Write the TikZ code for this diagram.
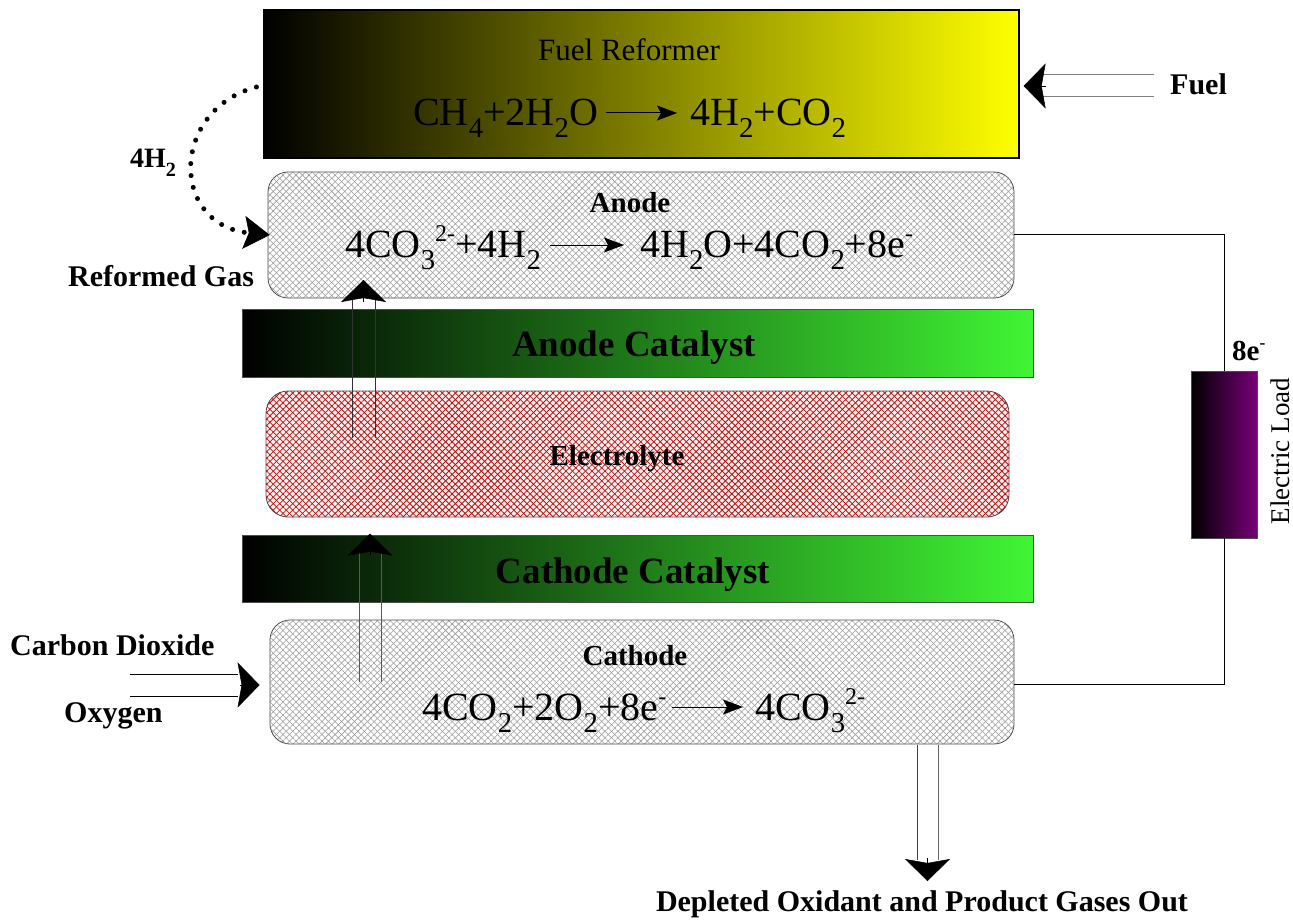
\documentclass[tikz,border=0pt]{standalone}
\usepackage{fontspec}
\setmainfont{Liberation Serif}
\usetikzlibrary{arrows.meta,patterns.meta,calc}
\definecolor{rfyellow}{RGB}{255,255,0}
\definecolor{catgreen}{RGB}{64,245,52}
\definecolor{loadpurple}{RGB}{120,0,120}
\definecolor{hatchred}{RGB}{185,15,15}
\newcommand\fsz[1]{\fontsize{#1}{#1}\selectfont}
\newcommand\sbs[1]{\raisebox{-0.3em}{\scalebox{0.72}{#1}}}
\newcommand\sps[1]{\raisebox{0.4em}{\scalebox{0.6}{#1}}}
\begin{document}
\begin{tikzpicture}[x=1pt,y=-1pt,
  gasbox/.style={inner sep=0pt, draw=black!70, line width=0.8pt, rounded corners=20pt,
    pattern={Lines[angle=45,distance=4.6pt,line width=0.55pt]}, pattern color=black!40,
    postaction={pattern={Lines[angle=-45,distance=4.6pt,line width=0.55pt]}, pattern color=black!40}},
  elbox/.style={inner sep=0pt, draw=black!70, line width=0.8pt, rounded corners=22pt, fill=red!6,
    postaction={pattern={Lines[angle=45,distance=4.6pt,line width=0.8pt]}, pattern color=hatchred},
    postaction={pattern={Lines[angle=-45,distance=4.6pt,line width=0.8pt]}, pattern color=hatchred}},
  catbox/.style={inner sep=0pt, draw=black!70, line width=0.8pt, left color=black, right color=catgreen,
    minimum width=791pt},
  lbl/.style={font=\fsz{30}\bfseries, inner sep=0pt},
  eqn/.style={font=\fsz{40}, inner sep=0pt},
  eqarr/.style={line width=1pt, -{Stealth[length=20pt,width=15pt,inset=4pt]}},
  shaft/.style={line width=1pt, draw=black!80},
  bighead/.style={line width=0.5pt, -{Stealth[length=22pt,width=45pt,inset=4pt]}},
  wire/.style={line width=1pt, draw=black}]
\useasboundingbox (0,0) rectangle (1293,920);

% ---- main blocks ----
\node[draw=black, line width=1.2pt, left color=black, right color=rfyellow, inner sep=0pt,
  minimum width=755pt, minimum height=148pt] (fr) at (641.5,84) {};
\node[gasbox, minimum width=746pt, minimum height=126pt] (an) at (641,235) {};
\node[catbox, minimum height=68pt] (ac) at (637.5,343) {};
\node[elbox, minimum width=743pt, minimum height=126pt] (el) at (637.5,454) {};
\node[catbox, minimum height=67pt] (cc) at (637.5,568.5) {};
\node[gasbox, minimum width=744pt, minimum height=124pt] (ca) at (642,682) {};
\node[draw=black!70, line width=0.8pt, left color=black, right color=loadpurple, inner sep=0pt,
  minimum width=66pt, minimum height=167pt] (load) at (1224,454.5) {};

% ---- fuel reformer texts ----
\node[font=\fsz{31}, inner sep=0pt, anchor=base] (frt) at (629,61) {Fuel Reformer};
\node[eqn, anchor=base west] (frL) at (413,126) {CH\sbs{4}+2H\sbs{2}O};
\node[eqn, anchor=base west] (frR) at (690,126) {4H\sbs{2}+CO\sbs{2}};
\draw[eqarr] ([xshift=8pt,yshift=13pt]frL.base east) -- ([xshift=-13pt,yshift=13pt]frR.base west);

% ---- anode texts ----
\node[lbl, font=\fsz{29}\bfseries, anchor=base] (ant) at (630,213) {Anode};
\node[eqn, anchor=base west] (anL) at (345,258) {4CO\sbs{3}\sps{2-}+4H\sbs{2}};
\node[eqn, anchor=base west] (anR) at (640,258) {4H\sbs{2}O+4CO\sbs{2}+8e\sps{-}};
\draw[eqarr] ([xshift=9pt,yshift=13pt]anL.base east) -- ([xshift=-16pt,yshift=13pt]anR.base west);

% ---- catalysts / electrolyte texts ----
\node[lbl, font=\fsz{37}\bfseries, anchor=base] (act) at (634,356) {Anode Catalyst};
\node[lbl, font=\fsz{29}\bfseries, anchor=base] (elt) at (617,465) {Electrolyte};
\node[lbl, font=\fsz{37}\bfseries, anchor=base] (cct) at (633,583) {Cathode Catalyst};

% ---- cathode texts ----
\node[lbl, font=\fsz{29}\bfseries, anchor=base] (cat) at (635,665) {Cathode};
\node[eqn, anchor=base west] (caL) at (422,720) {4CO\sbs{2}+2O\sbs{2}+8e\sps{-}};
\node[eqn, anchor=base west] (caR) at (755,720) {4CO\sbs{3}\sps{2-}};
\draw[eqarr] ([xshift=5pt,yshift=13pt]caL.base east) -- ([xshift=-12pt,yshift=13pt]caR.base west);

% ---- outside labels ----
\node[lbl, font=\fsz{28}\bfseries, anchor=base west] (h2) at (130,168) {4H\sbs{2}};
\node[lbl, anchor=base west] (rg) at (68,286) {Reformed Gas};
\node[lbl, anchor=base west] (fuel) at (1170,95) {Fuel};
\node[lbl, anchor=base west] (co2) at (10,655) {Carbon Dioxide};
\node[lbl, anchor=base west] (o2) at (64,722) {Oxygen};
\node[lbl, font=\fsz{29}\bfseries, anchor=base west] (e8) at (1232,360) {8e\sps{-}};
\node[font=\fsz{27}, inner sep=0pt, rotate=90] (elload) at (1280,451) {Electric Load};
\node[lbl, anchor=base] (out) at (922,911) {Depleted Oxidant and Product Gases Out};

% ---- dotted reformed gas arrow ----
\draw[line width=5pt, dash pattern=on 0pt off 12pt, line cap=round,
  -{Stealth[length=26pt,width=33pt,inset=5pt,line width=0.5pt]}]
  ([xshift=-7pt,yshift=-3pt]fr.west) .. controls (170,110) and (170,225) .. ([xshift=2pt]an.west);

% ---- fuel inlet arrow ----
\coordinate (fuS) at (1154,86);
\coordinate (fuB) at (1043,86);
\coordinate (fuT) at ($(fr.east)+(4,2)$);
\draw[shaft, draw=black!50] ([yshift=11pt]fuS) -- ([yshift=11pt]fuB);
\draw[shaft, draw=black!50] ([yshift=-11pt]fuS) -- ([yshift=-11pt]fuB);
\draw[bighead] ([xshift=3pt]fuB) -- (fuT);

% ---- electrolyte to anode arrow ----
\coordinate (upS) at (363.5,438);
\coordinate (upB) at (363.5,300);
\coordinate (upT) at (363.5,280);
\draw[shaft] ([xshift=-11.5pt]upS) -- ([xshift=-11.5pt]upB);
\draw[shaft] ([xshift=11.5pt]upS) -- ([xshift=11.5pt]upB);
\draw[bighead] ([yshift=-2pt]upB) -- (upT);

% ---- cathode to cathode catalyst arrow ----
\coordinate (loS) at (370,682);
\coordinate (loB) at (370,553);
\coordinate (loT) at ($(cc.north)+(-267.5,-1)$);
\draw[shaft, draw=black!65] ([xshift=-11pt]loS) -- ([xshift=-11pt]loB);
\draw[shaft, draw=black!65] ([xshift=11pt]loS) -- ([xshift=11pt]loB);
\draw[bighead] ([yshift=-2pt]loB) -- (loT);

% ---- cathode inlet arrow ----
\coordinate (inS) at (130,685);
\coordinate (inB) at (238,685);
\coordinate (inT) at ($(ca.west)+(-10,3)$);
\draw[shaft, draw=black] ([yshift=11pt]inS) -- ([yshift=11pt]inB);
\draw[shaft, draw=black] ([yshift=-11pt]inS) -- ([yshift=-11pt]inB);
\draw[bighead] ([xshift=2pt]inB) -- (inT);

% ---- outlet arrow ----
\coordinate (ouS) at (927.5,745);
\coordinate (ouB) at (927.5,860);
\coordinate (ouT) at (927.5,881);
\draw[shaft, draw=black!75] ([xshift=-10.5pt]ouS) -- ([xshift=-10.5pt]ouB);
\draw[shaft, draw=black!60] ([xshift=10.5pt]ouS) -- ([xshift=10.5pt]ouB);
\draw[bighead] ([yshift=2pt]ouB) -- (ouT);

% ---- external circuit ----
\draw[wire] (an.east) -| (load.north);
\draw[wire] (load.south) |- ([yshift=-2pt]ca.east);
\end{tikzpicture}
\end{document}
